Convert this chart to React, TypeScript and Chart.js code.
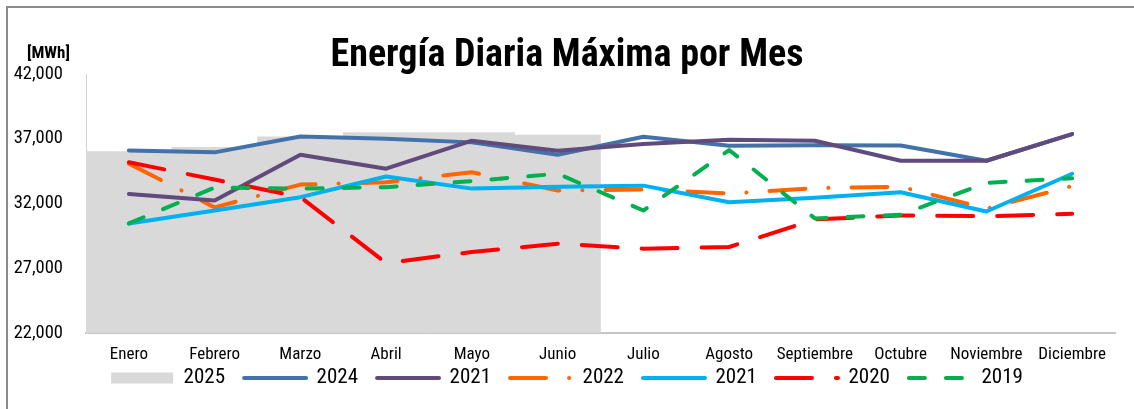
import React, { useEffect, useRef } from 'react';
import { Chart, registerables } from 'chart.js';

Chart.register(...registerables);

const months = ['Enero', 'Febrero', 'Marzo', 'Abril', 'Mayo', 'Junio', 'Julio', 'Agosto', 'Septiembre', 'Octubre', 'Noviembre', 'Diciembre'];
const energy2025 = [36000, 36330, 37150, 37480, 37480, 37280];
const energy2024 = [36100, 35950, 37180, 37000, 36720, 35770, 37150, 36460, 36500, 36480, 35300, 37360];
const energy2021a = [32740, 32230, 35770, 34690, 36850, 36080, 36600, 36920, 36850, 35300, 35300, 37360];
const energy2022 = [35080, 31700, 33460, 33640, 34410, 33000, 33080, 32770, 33190, 33300, 31600, 33350];
const energy2021b = [30460, 31460, 32490, 34080, 33150, 33300, 33380, 32100, 32440, 32870, 31380, 34300];
const energy2020 = [35180, 33850, 32500, 27400, 28250, 28900, 28510, 28640, 30770, 31080, 31020, 31200];
const energy2019 = [30460, 33230, 33150, 33260, 33730, 34300, 31460, 36130, 30850, 31130, 33590, 33950];
const yTicks = [22000, 27000, 32000, 37000, 42000];

const NARROW = "'Roboto Condensed', 'Liberation Sans Narrow', 'Arial Narrow', sans-serif";

const seriesStyles = [
  { label: '2024', data: energy2024, color: '#4371A9', dash: [] as number[], order: 5 },
  { label: '2021', data: energy2021a, color: '#614A7C', dash: [] as number[], order: 4 },
  { label: '2022', data: energy2022, color: '#FF6600', dash: [36, 23, 0.1, 23], order: 6 },
  { label: '2021', data: energy2021b, color: '#00B0F0', dash: [] as number[], order: 3 },
  { label: '2020', data: energy2020, color: '#FF0000', dash: [36, 24], order: 2 },
  { label: '2019', data: energy2019, color: '#00B050', dash: [16, 21], order: 1 },
];

export default function App() {
  const ref = useRef<HTMLCanvasElement>(null);

  useEffect(() => {
    if (!ref.current) return;

    const framePlugin = {
      id: 'framePlugin',
      beforeDraw(chart: any) {
        const ctx = chart.ctx;
        ctx.save();
        ctx.fillStyle = '#ffffff';
        ctx.fillRect(0, 0, chart.width, chart.height);
        ctx.strokeStyle = '#8C8C8C';
        ctx.lineWidth = 2;
        ctx.beginPath();
        ctx.moveTo(7, chart.height);
        ctx.lineTo(7, 7);
        ctx.lineTo(chart.width, 7);
        ctx.stroke();
        ctx.restore();
      },
      afterDraw(chart: any) {
        const ctx = chart.ctx;
        ctx.save();
        ctx.fillStyle = '#000';
        ctx.font = `bold 17px ${NARROW}`;
        ctx.textAlign = 'left';
        ctx.textBaseline = 'middle';
        ctx.fillText('[MWh]', 27, 54);
        ctx.restore();
      },
    };

    const lineSets = seriesStyles.map((s) => ({
      type: 'line' as const,
      label: s.label,
      data: s.data,
      borderColor: s.color,
      backgroundColor: s.color,
      borderWidth: 4,
      borderDash: s.dash,
      borderCapStyle: 'round' as const,
      borderJoinStyle: 'round' as const,
      pointRadius: 0,
      tension: 0,
      fill: false,
      order: s.order,
    }));

    const chart = new Chart(ref.current, {
      type: 'bar',
      data: {
        labels: months,
        datasets: [
          {
            type: 'bar',
            label: '2025',
            data: energy2025,
            backgroundColor: '#D9D9D9',
            borderWidth: 0,
            categoryPercentage: 1,
            barPercentage: 1,
            order: 10,
          } as any,
          ...lineSets,
        ],
      },
      options: {
        responsive: false,
        animation: false,
        layout: { padding: { left: 0, right: 0, top: 0, bottom: 15.5 } },
        scales: {
          x: {
            grid: { display: false, drawTicks: false },
            border: { display: true, color: '#C4C4C4', width: 2 },
            ticks: { font: { family: NARROW, size: 17, lineHeight: 1.2 }, color: '#000', padding: 11.3, maxRotation: 0, autoSkip: false },
            afterFit(s: any) {
              s.height = 15.5;
              // let the month labels draw below the (shortened) axis box
              s._computeLabelArea = () => null;
            },
          },
          y: {
            type: 'linear',
            min: 22000,
            max: 42000,
            afterBuildTicks(s: any) { s.ticks = yTicks.map((v) => ({ value: v })); },
            grid: { display: false, drawTicks: false },
            border: { display: true, color: '#D0D0D0', width: 1 },
            ticks: {
              font: { family: NARROW, size: 18.5 },
              color: '#000',
              padding: 23,
              callback: (v: any) => Number(v).toLocaleString('en-US'),
            },
            afterFit(s: any) { s.width = 86; },
          },
          yRight: {
            type: 'linear',
            position: 'right',
            display: true,
            grid: { display: false },
            border: { display: false },
            ticks: { display: false },
            afterFit(s: any) { s.width = 19; },
          },
        } as any,
        plugins: {
          title: {
            display: true,
            text: 'Energía Diaria Máxima por Mes',
            color: '#000',
            font: { family: NARROW, size: 38, weight: 'bold', lineHeight: 0.9 },
            padding: { top: 39.8, bottom: 0 },
          },
          legend: {
            position: 'bottom',
            maxHeight: 45,
            labels: {
              usePointStyle: true,
              pointStyleWidth: 62,
              boxHeight: 11,
              padding: 19,
              color: '#000',
              font: { family: NARROW, size: 21 },
              generateLabels: () => [
                { text: '2025', fillStyle: '#D9D9D9', strokeStyle: '#D9D9D9', lineWidth: 0, pointStyle: 'rect', hidden: false, datasetIndex: 0 },
                ...seriesStyles.map((s, i) => ({
                  text: s.label,
                  fillStyle: s.color,
                  strokeStyle: s.color,
                  lineWidth: 4,
                  lineDash: s.dash,
                  lineCap: 'round',
                  pointStyle: 'line',
                  hidden: false,
                  datasetIndex: i + 1,
                })),
              ] as any,
            },
          },
          tooltip: { enabled: false },
        },
      } as any,
      plugins: [framePlugin],
    });

    return () => chart.destroy();
  }, []);

  return (
    <div style={{ position: 'fixed', left: 0, top: 0, width: 1134, height: 409, background: '#fff' }}>
      <canvas ref={ref} width={1134} height={409} style={{ display: 'block' }} />
    </div>
  );
}
